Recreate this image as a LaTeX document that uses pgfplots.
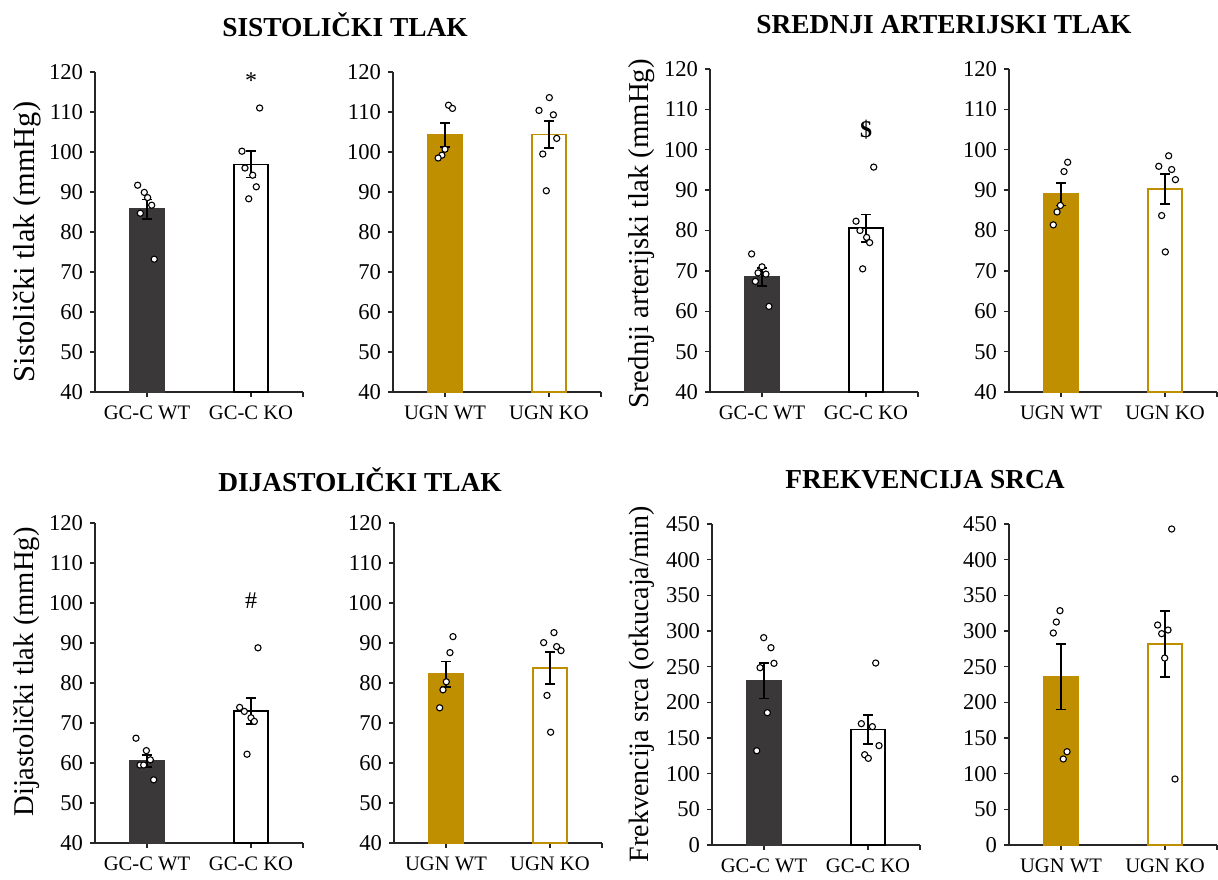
\documentclass[border=0pt]{standalone}
\usepackage{pgfplots}
\pgfplotsset{compat=1.18}
\usepackage{fontspec}
\setmainfont{Liberation Serif}
\definecolor{cdark}{HTML}{3A3838}
\definecolor{cgold}{HTML}{BF8F00}
\pgfplotsset{
  panel/.style={
    scale only axis, width=104pt, height=160pt,
    xmin=-0.5, xmax=1.5, clip=false,
    axis lines=left, axis line style={-, line width=0.75pt, black!85},
    tick align=outside, major tick length=2.5pt,
    tick style={line width=0.75pt, black!85},
    xtick={0,1}, extra x ticks={1.5}, extra x tick labels={},
    ticklabel style={black},
    xticklabel style={font=\fontsize{10.3}{12}\selectfont, yshift=-1pt},
    yticklabel style={font=\fontsize{11.3}{13}\selectfont},
    /pgf/number format/assume math mode=true,
  },
  bp/.style={ymin=40, ymax=120, ytick={40,50,...,120}},
  hr/.style={ymin=0, ymax=450, ytick={0,50,...,450}},
  eb/.style={draw=none, mark=none, error bars/.cd, y dir=both, y explicit,
    error bar style={draw=black, line width=0.75pt, solid},
    error mark options={rotate=90, mark size=2.5pt, line width=0.75pt, draw=black}},
  dots/.style={only marks, mark=*, mark size=1.55pt, mark options={fill=white, draw=black, line width=0.55pt}},
}
\begin{document}
\begin{tikzpicture}
\path[use as bounding box] (0,0) rectangle (609pt,439.5pt);
% titles
\node[font=\fontsize{13.7}{16}\selectfont\bfseries] at (172.5pt,427pt) {SISTOLIČKI TLAK};
\node[font=\fontsize{13.7}{16}\selectfont\bfseries] at (472pt,427pt) {SREDNJI ARTERIJSKI TLAK};
\node[font=\fontsize{13.7}{16}\selectfont\bfseries] at (180pt,199.5pt) {DIJASTOLIČKI TLAK};
\node[font=\fontsize{13.7}{16}\selectfont\bfseries] at (462.5pt,199.5pt) {FREKVENCIJA SRCA};
% y labels
\node[rotate=90, font=\fontsize{15.2}{17}\selectfont] at (13.5pt,318.5pt) {Sistolički tlak (mmHg)};
\node[rotate=90, font=\fontsize{14.4}{16}\selectfont] at (321pt,322.5pt) {Srednji arterijski tlak (mmHg)};
\node[rotate=90, font=\fontsize{14.3}{16}\selectfont] at (13.5pt,103.5pt) {Dijastolički tlak (mmHg)};
\node[rotate=90, font=\fontsize{14}{16}\selectfont] at (321pt,97.5pt) {Frekvencija srca (otkucaja/min)};

% Panel 1
\begin{axis}[panel, bp, at={(47.5pt,243.5pt)}, anchor=south west, xticklabels={GC-C WT, GC-C KO}]
\addplot[ybar, bar width=0.33, fill=cdark, draw=cdark, line width=0.75pt] coordinates {(0,85.7)};
\addplot[ybar, bar width=0.33, fill=white, draw=black, line width=0.75pt] coordinates {(1,96.9)};
\addplot[eb] coordinates {(0,85.7) +- (0,2.4) (1,96.9) +- (0,3.3)};
\addplot[dots] coordinates {(-0.09,91.7) (-0.026,89.9) (0.006,88.6) (0.045,86.7) (-0.064,84.7) (0.07,73.2)};
\addplot[dots] coordinates {(0.913,100.2) (0.942,96.0) (1.016,94.2) (1.051,91.3) (0.978,88.3) (1.083,111.0)};
\node[font=\fontsize{12}{14}\selectfont] at (axis cs:1,117.8) {*};
\end{axis}

% Panel 2
\begin{axis}[panel, bp, at={(196.5pt,243.5pt)}, anchor=south west, xticklabels={UGN WT, UGN KO}]
\addplot[ybar, bar width=0.33, fill=cgold, draw=cgold, line width=0.75pt] coordinates {(0,104.2)};
\addplot[ybar, bar width=0.33, fill=white, draw=cgold, line width=0.75pt] coordinates {(1,104.4)};
\addplot[eb] coordinates {(0,104.2) +- (0,3.0) (1,104.4) +- (0,3.4)};
\addplot[dots] coordinates {(0.034,111.7) (0.072,110.9) (0,100.7) (-0.03,99.2) (-0.066,98.5)};
\addplot[dots] coordinates {(1.003,113.6) (0.904,110.4) (1.042,109.3) (1.074,103.4) (0.94,99.5) (0.974,90.3)};
\end{axis}

% Panel 3
\begin{axis}[panel, bp, height=161.5pt, at={(355pt,243.5pt)}, anchor=south west, xticklabels={GC-C WT, GC-C KO}]
\addplot[ybar, bar width=0.33, fill=cdark, draw=cdark, line width=0.75pt] coordinates {(0,68.5)};
\addplot[ybar, bar width=0.33, fill=white, draw=black, line width=0.75pt] coordinates {(1,80.6)};
\addplot[eb] coordinates {(0,68.5) +- (0,2.2) (1,80.6) +- (0,3.4)};
\addplot[dots] coordinates {(-0.10,74.2) (0,71.0) (0.038,69.2) (-0.038,69.5) (-0.064,67.4) (0.067,61.2)};
\addplot[dots] coordinates {(0.904,82.3) (0.942,80.0) (1.006,78.3) (1.035,77.0) (0.968,70.5) (1.074,95.7)};
\node[font=\fontsize{12}{14}\selectfont\bfseries] at (axis cs:1,105) {\$};
\end{axis}

% Panel 4
\begin{axis}[panel, bp, height=161.5pt, at={(504.5pt,243.5pt)}, anchor=south west, xticklabels={UGN WT, UGN KO}]
\addplot[ybar, bar width=0.33, fill=cgold, draw=cgold, line width=0.75pt] coordinates {(0,89.0)};
\addplot[ybar, bar width=0.33, fill=white, draw=cgold, line width=0.75pt] coordinates {(1,90.3)};
\addplot[eb] coordinates {(0,89.0) +- (0,2.8) (1,90.3) +- (0,3.7)};
\addplot[dots] coordinates {(0.064,96.9) (0.029,94.6) (-0.006,86.2) (-0.038,84.6) (-0.074,81.4)};
\addplot[dots] coordinates {(1.035,98.5) (0.94,95.9) (1.064,95.1) (1.1,92.6) (0.968,83.7) (1.003,74.7)};
\end{axis}

% Panel 5
\begin{axis}[panel, bp, at={(47.5pt,18pt)}, anchor=south west, xticklabels={GC-C WT, GC-C KO}]
\addplot[ybar, bar width=0.33, fill=cdark, draw=cdark, line width=0.75pt] coordinates {(0,60.5)};
\addplot[ybar, bar width=0.33, fill=white, draw=black, line width=0.75pt] coordinates {(1,73.0)};
\addplot[eb] coordinates {(0,60.5) +- (0,1.5) (1,73.0) +- (0,3.3)};
\addplot[dots] coordinates {(-0.106,66.2) (-0.006,63.1) (0.032,60.8) (-0.067,59.5) (-0.032,59.5) (0.064,55.8)};
\addplot[dots] coordinates {(0.891,73.9) (0.936,72.9) (1.0,71.3) (1.032,70.4) (0.962,62.2) (1.067,88.8)};
\node[font=\fontsize{12}{14}\selectfont] at (axis cs:1,100.7) {\#};
\end{axis}

% Panel 6
\begin{axis}[panel, bp, at={(197pt,18pt)}, anchor=south west, xticklabels={UGN WT, UGN KO}]
\addplot[ybar, bar width=0.33, fill=cgold, draw=cgold, line width=0.75pt] coordinates {(0,82.2)};
\addplot[ybar, bar width=0.33, fill=white, draw=cgold, line width=0.75pt] coordinates {(1,83.8)};
\addplot[eb] coordinates {(0,82.2) +- (0,3.2) (1,83.8) +- (0,4.0)};
\addplot[dots] coordinates {(0.067,91.6) (0.038,87.6) (0.003,80.3) (-0.029,78.3) (-0.061,73.8)};
\addplot[dots] coordinates {(1.038,92.6) (0.939,90.1) (1.064,89.1) (1.106,88.1) (0.971,76.9) (1.006,67.7)};
\end{axis}

% Panel 7
\begin{axis}[panel, hr, height=160.5pt, at={(356pt,17pt)}, anchor=south west, xticklabels={GC-C WT, GC-C KO}]
\addplot[ybar, bar width=0.33, fill=cdark, draw=cdark, line width=0.75pt] coordinates {(0,230.4)};
\addplot[ybar, bar width=0.33, fill=white, draw=black, line width=0.75pt] coordinates {(1,162.1)};
\addplot[eb] coordinates {(0,230.4) +- (0,24.8) (1,162.1) +- (0,20.5)};
\addplot[dots] coordinates {(-0.003,290.7) (0.067,276.6) (0.096,254.7) (-0.038,248.6) (0.032,185.5) (-0.07,132.2)};
\addplot[dots] coordinates {(1.074,255.1) (0.936,170.1) (1.042,165.9) (1.106,139.3) (0.968,126.6) (1.003,121.5)};
\end{axis}

% Panel 8
\begin{axis}[panel, hr, height=160.5pt, at={(504.5pt,17pt)}, anchor=south west, xticklabels={UGN WT, UGN KO}]
\addplot[ybar, bar width=0.33, fill=cgold, draw=cgold, line width=0.75pt] coordinates {(0,236)};
\addplot[ybar, bar width=0.33, fill=white, draw=cgold, line width=0.75pt] coordinates {(1,281.8)};
\addplot[eb] coordinates {(0,236) +- (0,46) (1,281.8) +- (0,46.5)};
\addplot[dots] coordinates {(-0.01,328.5) (-0.045,312.6) (-0.074,297.2) (0.058,130.8) (0.022,120.6)};
\addplot[dots] coordinates {(1.064,443) (0.929,308.4) (1.029,301.4) (0.968,296.3) (0.997,262.1) (1.096,92.5)};
\end{axis}
\end{tikzpicture}
\end{document}
